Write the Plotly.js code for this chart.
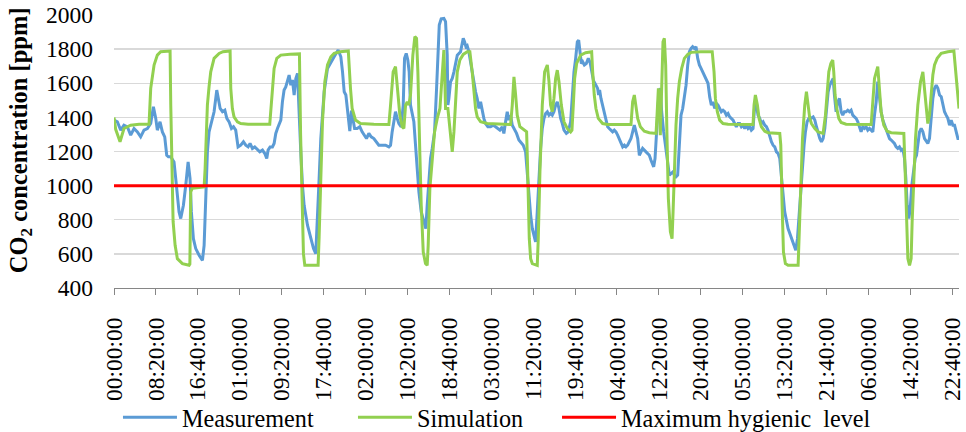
<!DOCTYPE html>
<html>
<head>
<meta charset="utf-8">
<script src="https://cdn.plot.ly/plotly-3.0.1.min.js"></script>
<style>html,body{margin:0;padding:0;background:#fff;}#chart{width:966px;height:432px;}</style>
</head>
<body>
<div id="chart"></div>
<script>
// minutes since start of the measurement week
const tickMinutes = [0,500,1000,1500,2000,2500,3000,3500,4000,4500,5000,5500,6000,6500,7000,7500,8000,8500,9000,9500,10000];
const tickLabels = ["00:00:00","08:20:00","16:40:00","01:00:00","09:20:00","17:40:00","02:00:00","10:20:00","18:40:00","03:00:00","11:20:00","19:40:00","04:00:00","12:20:00","20:40:00","05:00:00","13:20:00","21:40:00","06:00:00","14:20:00","22:40:00"];

const measTime = [0,40,80,119,159,199,239,279,318,358,398,438,470,498,517,549,577,605,629,649,677,716,736,756,776,796,828,856,884,907,923,947,975,1015,1055,1075,1095,1114,1134,1162,1194,1226,1246,1266,1294,1322,1346,1373,1401,1425,1452,1480,1512,1544,1572,1600,1623,1651,1679,1711,1739,1771,1799,1822,1838,1862,1890,1910,1930,1950,1970,1990,2009,2029,2049,2069,2089,2109,2129,2149,2169,2189,2208,2228,2248,2268,2308,2348,2380,2407,2427,2447,2467,2487,2507,2547,2587,2626,2674,2706,2726,2746,2766,2790,2813,2833,2850,2870,2900,2932,2960,2988,3012,3040,3068,3100,3131,3159,3199,3239,3279,3299,3318,3338,3358,3378,3398,3426,3450,3466,3486,3505,3521,3537,3557,3577,3597,3617,3637,3665,3697,3720,3736,3756,3776,3796,3824,3848,3864,3880,3903,3935,3955,3975,3983,3995,4015,4035,4055,4075,4095,4134,4166,4182,4198,4213,4233,4253,4273,4293,4313,4333,4353,4373,4393,4412,4432,4460,4492,4524,4552,4580,4603,4631,4651,4671,4691,4711,4731,4751,4771,4802,4830,4858,4882,4910,4930,4950,4970,4990,5009,5029,5049,5069,5089,5109,5129,5149,5169,5189,5208,5228,5248,5268,5288,5308,5328,5348,5368,5396,5419,5447,5467,5487,5507,5527,5543,5559,5575,5591,5611,5634,5658,5680,5700,5720,5749,5769,5781,5793,5809,5829,5849,5869,5889,5908,5928,5948,5968,5988,6008,6028,6048,6068,6088,6107,6127,6147,6167,6187,6207,6227,6247,6267,6287,6306,6326,6346,6366,6386,6406,6426,6438,6454,6470,6486,6501,6517,6533,6557,6585,6605,6625,6645,6669,6685,6704,6724,6744,6764,6784,6804,6824,6844,6864,6884,6903,6923,6943,6963,6983,7003,7023,7043,7063,7086,7106,7126,7146,7166,7186,7205,7225,7245,7265,7285,7305,7325,7345,7365,7385,7404,7424,7444,7464,7484,7504,7524,7544,7564,7584,7603,7623,7643,7663,7683,7703,7723,7743,7763,7783,7802,7822,7842,7862,7882,7902,7922,7942,7962,7982,8001,8041,8081,8113,8133,8153,8169,8193,8213,8232,8248,8268,8288,8312,8340,8360,8380,8399,8419,8439,8459,8479,8499,8519,8539,8559,8579,8594,8614,8634,8654,8674,8693,8713,8733,8753,8773,8793,8813,8833,8853,8873,8893,8912,8932,8952,8972,8992,9012,9032,9052,9072,9092,9111,9131,9151,9171,9191,9211,9231,9251,9271,9291,9310,9330,9350,9370,9390,9410,9430,9446,9462,9482,9498,9517,9537,9557,9573,9589,9609,9629,9649,9669,9689,9708,9728,9748,9768,9788,9808,9828,9848,9868,9888,9907,9927,9947,9967,9987,10007,10027,10047,10067,10080];
const measValue = [1384,1374,1325,1354,1345,1296,1335,1315,1286,1325,1335,1364,1462,1394,1325,1374,1315,1286,1178,1169,1169,1139,1042,944,846,807,885,1002,1139,1042,846,689,631,592,562,650,963,1198,1315,1374,1433,1560,1511,1452,1433,1442,1394,1374,1335,1345,1325,1227,1237,1257,1237,1227,1247,1218,1227,1208,1198,1208,1188,1159,1208,1227,1227,1247,1306,1335,1364,1384,1491,1560,1579,1609,1648,1589,1619,1531,1628,1658,1394,1198,1002,885,768,689,631,601,787,1042,1276,1433,1550,1687,1726,1755,1795,1755,1667,1550,1531,1413,1320,1440,1394,1335,1335,1345,1315,1296,1276,1306,1286,1276,1257,1237,1237,1237,1227,1237,1315,1384,1433,1394,1364,1345,1472,1746,1775,1736,1667,1472,1413,1374,1237,1081,963,846,787,748,885,1042,1159,1218,1315,1570,1824,1941,1977,1980,1961,1765,1472,1511,1609,1628,1667,1726,1765,1785,1863,1843,1814,1820,1785,1726,1667,1589,1550,1511,1452,1491,1433,1394,1364,1345,1345,1354,1345,1335,1325,1345,1306,1374,1433,1384,1413,1354,1335,1306,1267,1247,1237,1198,1081,924,826,748,709,670,846,1042,1218,1335,1394,1423,1433,1413,1423,1413,1433,1472,1491,1452,1394,1364,1325,1306,1315,1374,1550,1667,1746,1843,1853,1785,1716,1726,1707,1716,1746,1720,1660,1615,1589,1570,1531,1560,1511,1472,1433,1394,1345,1335,1325,1315,1325,1315,1296,1276,1257,1227,1237,1227,1237,1257,1276,1315,1354,1315,1276,1178,1198,1218,1208,1198,1188,1178,1149,1120,1110,1159,1276,1433,1550,1570,1433,1315,1198,1120,1061,1071,1081,1061,1051,1061,1276,1413,1452,1511,1589,1707,1785,1804,1814,1804,1814,1746,1707,1687,1667,1648,1620,1600,1520,1472,1491,1452,1482,1472,1452,1433,1442,1433,1413,1423,1403,1394,1384,1364,1345,1364,1364,1345,1354,1335,1354,1335,1345,1325,1335,1472,1472,1413,1394,1364,1374,1354,1345,1325,1286,1257,1237,1227,1198,1188,1159,1042,924,846,748,689,641,621,689,807,963,1120,1237,1315,1374,1394,1394,1403,1384,1345,1306,1276,1257,1276,1335,1433,1550,1589,1609,1628,1530,1433,1491,1511,1433,1413,1433,1433,1442,1433,1442,1413,1403,1394,1374,1335,1315,1345,1335,1345,1325,1335,1325,1315,1413,1491,1609,1511,1433,1384,1354,1335,1296,1276,1267,1257,1247,1227,1218,1227,1208,1218,1159,1042,885,807,866,1002,1100,1159,1178,1237,1315,1335,1315,1276,1257,1247,1276,1394,1511,1570,1589,1570,1531,1521,1472,1433,1413,1394,1354,1384,1354,1354,1315,1276,1276];

const simTime = [0,20,72,119,199,300,418,438,478,517,557,669,677,689,705,729,756,816,896,905,915,935,1075,1087,1103,1114,1134,1154,1194,1254,1300,1385,1393,1412,1432,1472,1512,1600,1858,1875,1890,1910,1942,1990,2100,2212,2226,2236,2248,2260,2276,2435,2447,2467,2487,2515,2547,2587,2626,2700,2795,2821,2841,2881,2940,3100,3279,3299,3330,3358,3378,3410,3438,3458,3478,3498,3517,3537,3565,3589,3609,3625,3649,3665,3689,3716,3736,3748,3768,3796,3824,3856,3888,3915,3935,3947,3955,3983,3995,4015,4035,4055,4075,4095,4126,4166,4214,4245,4273,4293,4313,4333,4373,4452,4731,4751,4771,4791,4810,4842,4890,4922,4930,4942,4954,4970,4990,5049,5061,5081,5109,5137,5169,5189,5208,5228,5248,5268,5288,5308,5336,5368,5407,5447,5463,5479,5495,5519,5567,5626,5698,5710,5729,5749,5777,5829,5889,6167,6187,6207,6227,6247,6279,6326,6386,6466,6478,6494,6505,6517,6533,6549,6565,6581,6597,6613,6637,6657,6669,6685,6704,6724,6744,6772,6804,6844,6884,7000,7136,7158,7174,7197,7225,7265,7325,7623,7635,7651,7675,7695,7723,7763,7802,7942,7954,7970,7986,8009,8041,8161,8173,8193,8213,8240,8260,8280,8300,8320,8360,8399,8459,8487,8511,8527,8551,8574,8586,8602,8622,8646,8674,8733,9032,9052,9072,9111,9131,9151,9183,9223,9271,9422,9438,9454,9470,9490,9509,9521,9541,9561,9589,9621,9649,9669,9689,9708,9728,9748,9768,9788,9820,9868,9947,10019,10039,10059,10080];
const simValue = [1400,1330,1257,1335,1354,1360,1360,1570,1707,1765,1785,1789,1475,1081,790,650,572,543,533,540,963,985,993,1100,1300,1472,1580,1667,1746,1775,1785,1789,1570,1452,1403,1374,1364,1360,1360,1480,1570,1687,1746,1765,1770,1772,1300,1081,800,600,533,533,700,1081,1374,1609,1707,1755,1775,1785,1789,1570,1452,1384,1364,1360,1358,1472,1667,1697,1570,1413,1345,1335,1472,1491,1472,1531,1765,1873,1863,1667,1178,885,611,543,533,650,983,1178,1315,1394,1452,1648,1795,1609,1452,1452,1394,1276,1198,1315,1531,1667,1736,1769,1785,1785,1667,1550,1452,1403,1374,1364,1358,1472,1638,1531,1413,1345,1325,1315,1178,885,689,572,543,533,689,1081,1472,1667,1707,1609,1472,1433,1511,1628,1677,1609,1472,1374,1335,1315,1325,1472,1628,1716,1765,1779,1785,1667,1531,1452,1394,1364,1358,1358,1491,1531,1452,1394,1345,1319,1310,1306,1413,1570,1472,1296,1570,1843,1863,1707,1276,924,729,689,846,1081,1354,1511,1609,1687,1746,1769,1781,1785,1785,1667,1511,1433,1384,1364,1360,1358,1472,1531,1472,1394,1345,1319,1310,1306,1237,885,611,543,533,533,689,983,1276,1472,1550,1472,1394,1364,1335,1315,1306,1413,1589,1667,1716,1736,1667,1531,1452,1394,1370,1360,1358,1472,1628,1697,1570,1433,1354,1319,1310,1306,1081,787,572,533,572,787,1081,1276,1472,1609,1667,1570,1433,1364,1413,1550,1648,1707,1746,1775,1785,1789,1667,1531,1452];

const limitTime = [0, 10080];
const limitValue = [1000, 1000];

const FONT = 'Liberation Serif, Times New Roman, serif';
const FS = 23.5;

const traces = [
  {x: measTime, y: measValue, type: 'scatter', mode: 'lines', name: 'Measurement',
   line: {color: '#5B9BD5', width: 3}, legend: 'legend'},
  {x: simTime, y: simValue, type: 'scatter', mode: 'lines', name: 'Simulation',
   line: {color: '#92D050', width: 3}, legend: 'legend2'},
  {x: limitTime, y: limitValue, type: 'scatter', mode: 'lines', name: 'Maximum hygienic  level',
   line: {color: '#FF0000', width: 3}, legend: 'legend3'}
];

const legendBase = {orientation: 'h', xanchor: 'left', yanchor: 'middle', yref: 'container', y: 0.0336,
  font: {family: FONT, size: 24.2, color: '#000'}, itemwidth: 54, bgcolor: 'rgba(0,0,0,0)', borderwidth: 0};

const layout = {
  width: 966, height: 432,
  margin: {l: 114, r: 7, t: 15, b: 144, pad: 0},
  paper_bgcolor: '#fff', plot_bgcolor: '#fff',
  showlegend: true,
  legend: Object.assign({}, legendBase, {x: 0.0047}),
  legend2: Object.assign({}, legendBase, {x: 0.2828}),
  legend3: Object.assign({}, legendBase, {x: 0.5243}),
  xaxis: {
    range: [0, 10080], tickmode: 'array', tickvals: tickMinutes, ticktext: tickLabels,
    tickangle: -90, ticks: 'outside', ticklen: 6, tickcolor: '#868686', tickwidth: 1,
    showline: true, linecolor: '#868686', linewidth: 1, showgrid: false, zeroline: false,
    automargin: false,
    tickfont: {family: FONT, size: FS, color: '#000'}, ticklabelstandoff: 13
  },
  yaxis: {
    range: [400, 2000], tickmode: 'linear', tick0: 400, dtick: 200, automargin: false,
    showgrid: true, gridcolor: '#D9D9D9', gridwidth: 1.3, showline: false, zeroline: false,
    ticks: '', tickfont: {family: FONT, size: FS, color: '#000'}, ticklabelstandoff: 20
  },
  annotations: [{
    text: '<b>CO<sub>2</sub> concentration [ppm]</b>', textangle: -90, showarrow: false,
    xref: 'paper', yref: 'paper', x: -0.111, y: 0.542, xanchor: 'center', yanchor: 'middle',
    font: {family: FONT, size: 24.5, color: '#000'}
  }]
};

Plotly.newPlot('chart', traces, layout, {staticPlot: true, displayModeBar: false});
</script>
</body>
</html>
